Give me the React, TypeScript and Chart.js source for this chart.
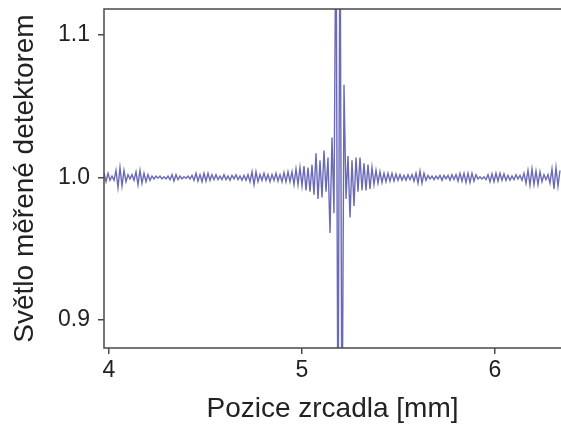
import { useEffect, useRef } from "react";
import { Chart, registerables } from "chart.js";

Chart.register(...registerables);

// Sampling grid of the recorded extremes (mirror position, mm)
const xStart = 3.974;
const xStep = 0.010363;

// Detected light minus 1.0, in thousandths, read extreme by extreme from the picture
const deviationMilli = [
  3, -3, 3, -2, 1, -2, 5, -7, 7, -6,
  5, -3, 2, -1, 2, -2, 4, -5, 5, -4,
  3, -3, 2, -2, 1, -1, 1, -0.5, 1, -1,
  0.5, -1, 1, -1.5, 2, -2.5, 2, -1.5, 1, -1,
  0.5, -0.5, 1, -1, 1.5, -2, 3, -2.5, 2, -3,
  3, -2.5, 3, -2, 2, -1.5, 2, -1.5, 1, -1.5,
  2, -1.5, 1, -2, 1.5, -1, 2, -1.5, 1, -2,
  1.5, -2, 2, -3, 4, -5, 4, -3, 2, -2,
  3, -2, 2, -3, 2, -2, 3, -2.5, 2, -3,
  3.5, -3, 4, -3, 4, -5, 6, -5, 7, -6,
  8, -9, 7, -10, 9, -12, 17, -15, 12, -14,
  19, -10, 14, -39, 28, -25, 200, -200, 200, -200,
  65, -15, 15, -28, 12, -20, 14, -10, 14, -9,
  10, -9, 9, -8, 7, -5, 5, -4, 4, -3.5,
  3, -3, 3, -2.5, 3, -2.5, 2.5, -2, 2, -2,
  1.5, -2, 2, -1.5, 2, -2.5, 3, -4, 4.5, -4,
  3, -2, 1.5, -1, 1, -1.5, 1, -1, 1.5, -2,
  1.5, -1, 1.5, -2, 2, -1.5, 2, -2.5, 3, -2.5,
  3, -3.5, 3, -3.5, 3, -2.5, 2, -1, 0.5, -1,
  0.5, -1.5, 2, -3, 2.5, -3, 3, -2.5, 3, -2,
  2.5, -2, 1.5, -2, 1, -1.5, 2, -1, 1.5, -2,
  3, -4, 5, -5.5, 6, -5, 4.5, -5, 4, -3,
  2, -1.5, 2, -4, 6, -8, 7, -6, 5,
];
const baseline = 1.0;

const xTickValues = [4, 5, 6];
const yTickValues = [0.9, 1.0, 1.1];
const xMin = 3.974;
const xMax = 6.342;
const yMin = 0.8804;
const yMax = 1.1182;

const xTitle = "Pozice zrcadla [mm]";
const yTitle = "Světlo měřené detektorem";

const FONT = "'Liberation Sans', Arial, Helvetica, sans-serif";

const framePlugin = {
  id: "frame",
  afterDraw(chart: any) {
    const { ctx, chartArea, width } = chart;
    ctx.save();
    ctx.strokeStyle = "#4a4a4a";
    ctx.lineWidth = 1.5;
    ctx.beginPath();
    ctx.moveTo(width, chartArea.top);
    ctx.lineTo(chartArea.left, chartArea.top);
    ctx.lineTo(chartArea.left, chartArea.bottom);
    ctx.lineTo(width, chartArea.bottom);
    ctx.stroke();
    ctx.restore();
  },
};

export default function App() {
  const ref = useRef<HTMLCanvasElement | null>(null);

  useEffect(() => {
    if (!ref.current) return;
    const points = deviationMilli.map((d, i) => ({
      x: xStart + i * xStep,
      y: baseline + d / 1000,
    }));
    const chart = new Chart(ref.current, {
      type: "line",
      data: {
        datasets: [
          {
            data: points,
            borderColor: "rgba(80,80,170,0.85)",
            borderWidth: 1.4,
            pointRadius: 0,
            tension: 0,
            fill: false,
          },
        ],
      },
      options: {
        animation: false,
        responsive: false,
        events: [],
        layout: { padding: { top: 9, left: 0, right: 0, bottom: 0 } },
        plugins: { legend: { display: false }, tooltip: { enabled: false } },
        scales: {
          x: {
            type: "linear",
            min: xMin,
            max: xMax,
            afterBuildTicks: (s: any) => {
              s.ticks = xTickValues.map((v) => ({ value: v }));
            },
            afterFit: (s: any) => {
              s.height = 78;
              s.paddingLeft = 0;
              s.paddingRight = 0;
            },
            border: { display: false },
            grid: {
              drawOnChartArea: false,
              drawTicks: true,
              tickLength: 6,
              color: "#4a4a4a",
              lineWidth: 1.5,
            },
            ticks: {
              color: "#222",
              font: { family: FONT, size: 23 },
              padding: 3,
              maxRotation: 0,
              callback: (v: any) => String(v),
            },
            title: {
              display: true,
              text: xTitle,
              color: "#222",
              font: { family: FONT, size: 28 },
              padding: { top: 0, bottom: 0 },
            },
          },
          y: {
            type: "linear",
            min: yMin,
            max: yMax,
            afterBuildTicks: (s: any) => {
              s.ticks = yTickValues.map((v) => ({ value: v }));
            },
            afterFit: (s: any) => {
              s.width = 104;
              s.paddingTop = 0;
              s.paddingBottom = 0;
            },
            border: { display: false },
            grid: {
              drawOnChartArea: false,
              drawTicks: true,
              tickLength: 6,
              color: "#4a4a4a",
              lineWidth: 1.5,
            },
            ticks: {
              color: "#222",
              font: { family: FONT, size: 23 },
              padding: 8,
              callback: (v: any) => Number(v).toFixed(1),
            },
            title: {
              display: true,
              text: yTitle,
              color: "#222",
              font: { family: FONT, size: 28 },
              padding: { top: 8, bottom: 0 },
            },
          },
        },
      },
      plugins: [framePlugin],
    });
    return () => chart.destroy();
  }, []);

  return (
    <div style={{ position: "fixed", left: 0, top: 0, width: 561, height: 426, background: "#fff" }}>
      <canvas ref={ref} width={561} height={426} style={{ width: 561, height: 426 }} />
    </div>
  );
}
